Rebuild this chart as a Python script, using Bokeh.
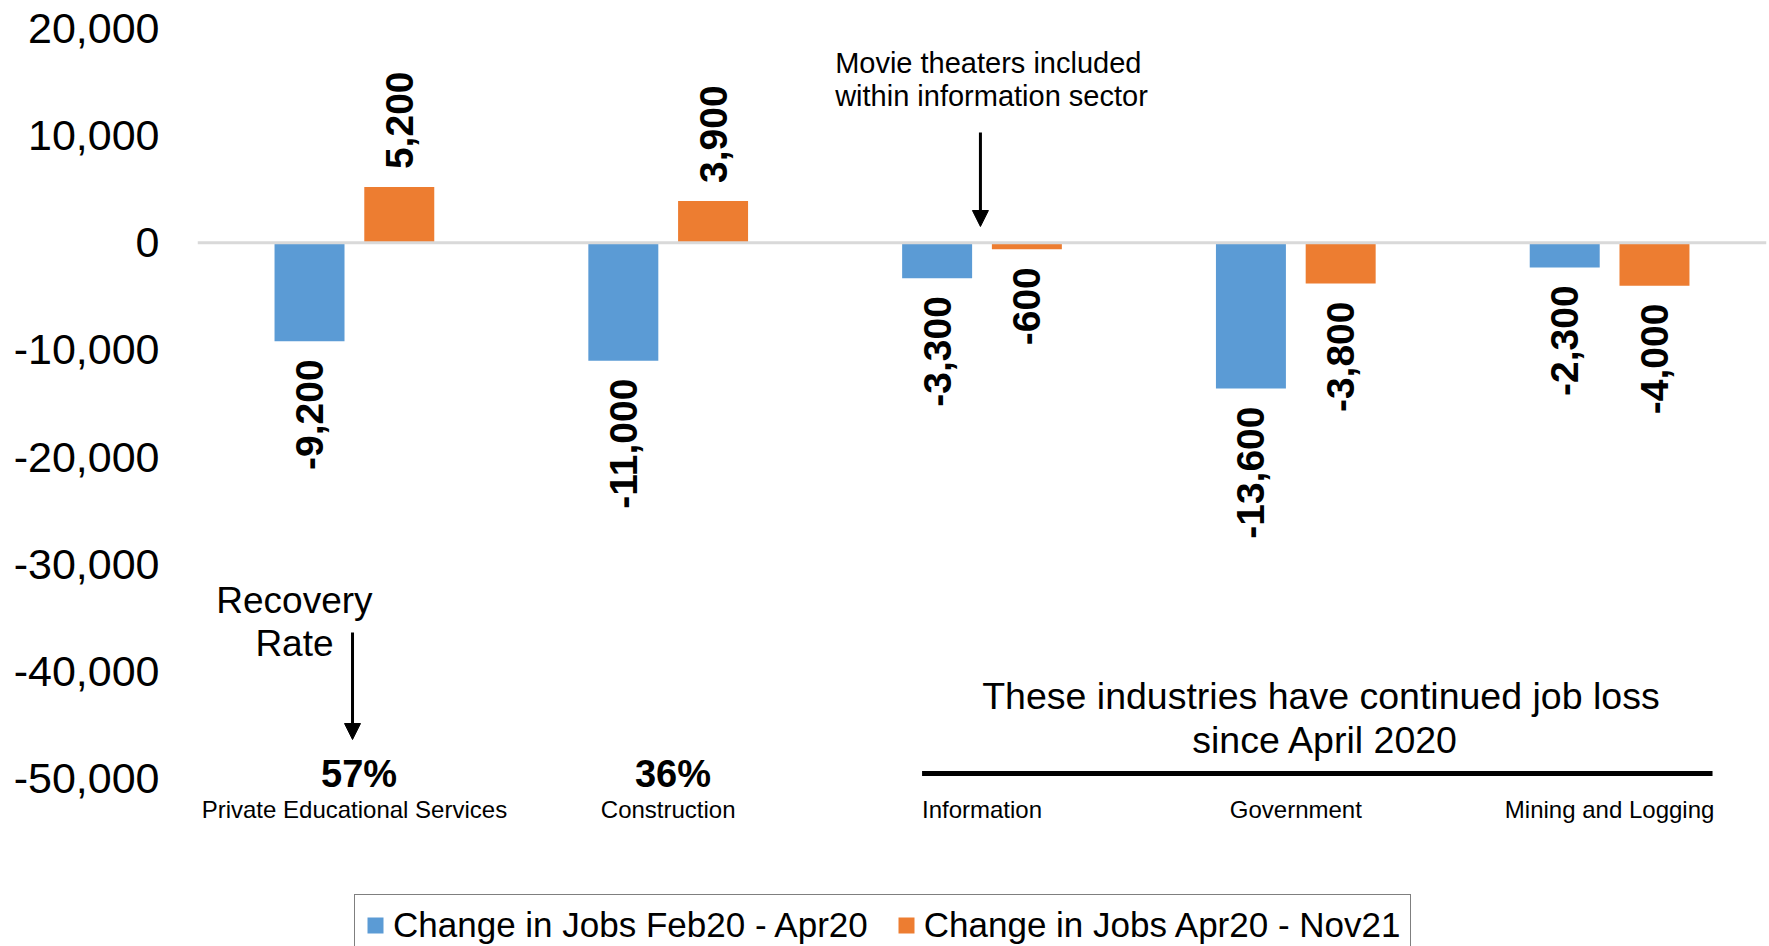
import math
from bokeh.plotting import figure
from bokeh.models import (FactorRange, Range1d, ColumnDataSource, FixedTicker, NumeralTickFormatter,
                          Span, Label, Arrow, NormalHead, Legend, LegendItem)
from bokeh.transform import dodge
from bokeh.core.properties import value, field
from bokeh.embed import file_html
from bokeh.resources import INLINE

# ---------------- data ----------------
categories = ["Private Educational Services", "Construction", "Information",
              "Government", "Mining and Logging"]
feb_apr = [-9200, -11000, -3300, -13600, -2300]
apr_nov = [5200, 3900, -600, -3800, -4000]
recovery_rates = ["57%", "36%"]
series_names = ["Change in Jobs Feb20 - Apr20", "Change in Jobs Apr20 - Nov21"]
y_ticks = [20000, 10000, 0, -10000, -20000, -30000, -40000, -50000]

BLUE = "#5B9BD5"
ORANGE = "#ED7D31"
FONT = "Liberation Sans"

# vertical scale: 10,000 units ~ 107 px; frame covers whole canvas height
PX = 1000 / 10.714          # data units per pixel
Y_MAX = 20000 + 28 * PX
Y_MIN = -50000 - 168 * PX

W_FIG, H_FIG = 1769, 946

p = figure(width=W_FIG, height=H_FIG,
           x_range=FactorRange(factors=categories, range_padding=0, factor_padding=0),
           y_range=Range1d(Y_MIN, Y_MAX),
           x_axis_location=None,
           output_backend="svg", toolbar_location=None,
           min_border_left=197, min_border_right=3, min_border_top=0, min_border_bottom=0)

p.xgrid.visible = False
p.ygrid.visible = False
p.outline_line_color = None
p.background_fill_color = "white"
p.border_fill_color = "white"

# y axis
p.yaxis.ticker = FixedTicker(ticks=y_ticks)
p.yaxis.formatter = NumeralTickFormatter(format="0,0")
p.yaxis.axis_line_color = None
p.yaxis.major_tick_line_color = None
p.yaxis.minor_tick_line_color = None
p.yaxis.major_label_text_font = FONT
p.yaxis.major_label_text_font_size = "43px"
p.yaxis.major_label_text_color = "black"
p.yaxis.major_label_standoff = 32

OFF = 0.143
W = 0.223
LAB_GAP = 18 * PX


def make_src(vals):
    return ColumnDataSource(dict(
        cat=categories,
        val=vals,
        ly=[v + LAB_GAP if v >= 0 else v - LAB_GAP for v in vals],
        lt=[f"{v:,}" for v in vals],
        al=["left" if v >= 0 else "right" for v in vals],
    ))


src_b = make_src(feb_apr)
src_o = make_src(apr_nov)

rb = p.vbar(x=dodge("cat", -OFF, range=p.x_range), top="val", bottom=0, width=W,
            source=src_b, fill_color=BLUE, line_color=None)
ro = p.vbar(x=dodge("cat", OFF, range=p.x_range), top="val", bottom=0, width=W,
            source=src_o, fill_color=ORANGE, line_color=None)

for src, o in ((src_b, -OFF), (src_o, OFF)):
    p.text(x=dodge("cat", o, range=p.x_range), y="ly", text="lt", source=src,
           angle=math.pi / 2, text_align=field("al"), text_baseline="middle",
           text_font=value(FONT), text_font_style="bold",
           text_font_size=value("39px"), text_color="black")

p.add_layout(Span(location=0, dimension="width", line_color="#D9D9D9", line_width=3))


def ref_y(py):
    """convert a vertical pixel position in the layout to data units"""
    return 20000 - (py - 28) * PX


def lab(x, py, t, size, align="center", bold=False):
    p.add_layout(Label(x=x, y=ref_y(py), text=t, text_font=FONT, text_font_size=size,
                       text_align=align, text_baseline="middle", text_color="black",
                       text_font_style="bold" if bold else "normal"))


# category labels (x axis)
for i, c in enumerate(categories):
    lab(i + 0.5, 809, c, "24px")

# Movie theaters annotation
lab(2.032, 62, "Movie theaters included", "29px", align="left")
lab(2.032, 95, "within information sector", "29px", align="left")
p.add_layout(Arrow(end=NormalHead(size=16, fill_color="black", line_color="black"),
                   x_start=2.495, y_start=ref_y(132), x_end=2.495, y_end=ref_y(226),
                   line_width=3, line_color="black"))

# Recovery rate annotation
lab(0.309, 600, "Recovery", "37px")
lab(0.309, 643, "Rate", "37px")
p.add_layout(Arrow(end=NormalHead(size=16, fill_color="black", line_color="black"),
                   x_start=0.494, y_start=ref_y(632), x_end=0.494, y_end=ref_y(739),
                   line_width=3, line_color="black"))
for i, r in enumerate(recovery_rates):
    lab(i + 0.515, 773, r, "38px", bold=True)

# Continued job loss annotation
lab(3.58, 695, "These industries have continued job loss", "37.5px")
lab(3.595, 739, "since April 2020", "37.5px")
p.add_layout(Arrow(start=None, end=None, x_start=2.309, y_start=ref_y(773),
                   x_end=4.828, y_end=ref_y(773), line_width=5, line_color="black"))

# Legend
legend = Legend(items=[LegendItem(label=series_names[0], renderers=[rb]),
                       LegendItem(label=series_names[1], renderers=[ro])],
                orientation="horizontal", location=(157, -10),
                label_text_font=FONT, label_text_font_size="35px", label_text_color="black",
                glyph_width=20, glyph_height=20, label_standoff=8, spacing=28, padding=10,
                border_line_color="black", border_line_width=1.5,
                background_fill_color="white", background_fill_alpha=1.0)
p.add_layout(legend)

open("out.html", "w").write(file_html(p, INLINE))
